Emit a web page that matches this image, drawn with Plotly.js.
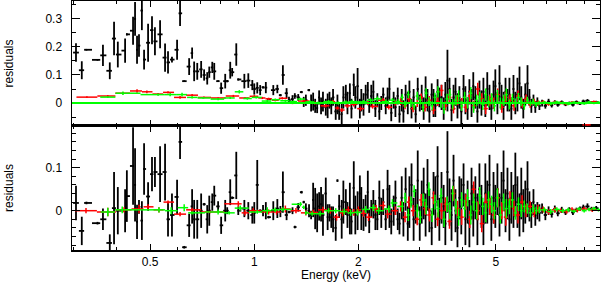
<!DOCTYPE html>
<html>
<head>
<meta charset="utf-8">
<script src="https://cdn.plot.ly/plotly-3.0.1.min.js"></script>
<style>html,body{margin:0;padding:0;background:#fff;}#chart{width:601px;height:282px;}</style>
</head>
<body>
<div id="chart"></div>
<script>
// ---------- data (energies in keV, residuals) ----------
const blackE = [0.305,0.317,0.327,0.352,0.365,0.382,0.393,0.403,0.423,0.428,
0.446,0.452,0.458,0.464,0.473,0.480,0.493,0.506,0.516,0.534,
0.552,0.563,0.578,0.598,0.610,0.627,0.648,0.661,0.670,0.684,
0.702,0.716,0.731,0.741,0.756,0.766,0.786,0.802,0.824,0.835,
0.852,0.863,0.887,0.899,0.936,0.961,0.987,1.0,1.02,1.04,
1.06,1.08,1.10,1.135,1.166,1.19,1.21,1.24,1.26,1.29,
1.31,1.34,1.37,1.39,1.41,1.44,1.46,1.48,1.50,1.52,
1.54,1.56,1.58,1.61,1.63,1.65,1.67,1.69,1.72,1.74,
1.76,1.79,1.81,1.84,1.86,1.89,1.91,1.94,1.96,1.99,
2.02,2.04,2.07,2.10,2.13,2.15,2.18,2.21,2.24,2.27,
2.30,2.33,2.36,2.40,2.43,2.46,2.49,2.53,2.56,2.60,2.63,
2.67,2.70,2.74,2.78,2.81,2.85,2.89,2.93,2.97,3.01,
3.05,3.09,3.13,3.17,3.21,3.26,3.30,3.34,3.39,3.43,
3.48,3.53,3.57,3.62,3.67,3.72,3.77,3.82,3.87,3.92,
3.97,4.03,4.08,4.14,4.19,4.25,4.30,4.36,4.42,4.48,
4.54,4.60,4.66,4.72,4.79,4.85,4.92,4.98,5.05,5.12,
5.19,5.26,5.33,5.40,5.47,5.54,5.62,5.69,5.77,5.85,
5.92,6.00,6.08,6.17,6.25,6.33,6.42,6.50,6.59,6.68,
6.80,6.95,7.10,7.25,7.40,7.55,7.75,7.95,8.15,8.35,8.55,8.75,8.95,9.2,9.45,9.75];

const blackTopV = [0.18,0.117,0.19,0.154,0.17,0.115,0.23,0.173,0.187,0.245,
0.258,0.30,0.19,0.205,0.33,0.155,0.215,0.26,0.22,0.245,
0.162,0.145,0.155,0.19,0.32,0.078,0.13,0.178,0.113,0.113,
0.12,0.1,0.088,0.11,0.127,0.113,0.078,0.053,0.078,0.078,
0.117,0.11,0.173,0.084,0.078,0.08,0.064,0.05,0.054,0.046,
0.056,0.055,0.014,0.046,0.05,0.028,0.1,0.035,0.01,0.014,
0.025,0.02,0.039,0.004,0.01,0.046,0.0,0.005,-0.01,-0.018,
0.02,-0.01,0.005,-0.015,-0.01,0.01,-0.01,0.02,-0.03,-0.005,
-0.03,-0.04,0.02,0.03,0.0,0.035,-0.02,0.065,0.02,0.06,
-0.02,0.01,-0.005,0.03,0.045,-0.01,0.025,0.04,-0.02,0.01,
-0.03,0.0,0.03,-0.01,0.02,0.05,-0.035,0.01,-0.015,0.025,-0.04,
0.01,-0.03,0.03,0.0,0.04,-0.02,0.02,-0.04,0.05,0.0,
0.02,-0.02,0.045,0.01,-0.03,0.03,0.0,-0.01,0.04,0.02,
0.02,-0.02,0.03,0.08,0.05,-0.025,0.02,0.04,-0.01,0.02,
-0.03,0.05,0.01,-0.02,0.04,0.0,0.06,0.02,-0.03,0.03,
0.0,0.04,-0.01,0.05,0.02,-0.02,0.03,0.06,0.0,0.07,
0.02,-0.01,0.04,0.01,0.03,-0.02,0.05,0.0,0.03,0.07,
0.02,-0.02,0.03,0.07,0.02,-0.01,0.01,-0.015,0.005,-0.01,
0.0,-0.01,0.005,-0.008,0.002,-0.006,0.003,-0.005,0.0,-0.006,0.004,-0.002,0.006,0.008,0.002,0.003];

const blackTopErr = [0.033,0.032,0.003,0.003,0.038,0.03,0.06,0.046,0.043,0.004,
0.05,0.06,0.05,0.04,0.07,0.035,0.068,0.05,0.05,0.05,
0.05,0.04,0.01,0.036,0.045,0.003,0.03,0.02,0.035,0.03,
0.03,0.02,0.022,0.02,0.02,0.03,0.003,0.02,0.026,0.004,
0.03,0.015,0.04,0.004,0.026,0.026,0.018,0.02,0.02,0.018,
0.004,0.02,0.004,0.018,0.015,0.004,0.035,0.018,0.012,0.014,
0.01,0.012,0.004,0.018,0.02,0.004,0.03,0.032,0.025,0.018,
0.025,0.03,0.035,0.03,0.044,0.03,0.03,0.03,0.03,0.035,
0.03,0.04,0.04,0.035,0.04,0.035,0.035,0.04,0.04,0.065,
0.035,0.04,0.04,0.035,0.03,0.025,0.04,0.04,0.03,0.025,
0.03,0.025,0.025,0.03,0.035,0.04,0.03,0.03,0.035,0.03,0.03,
0.04,0.04,0.035,0.04,0.04,0.035,0.03,0.03,0.04,0.03,
0.045,0.04,0.05,0.04,0.04,0.04,0.05,0.04,0.045,0.035,
0.045,0.04,0.045,0.11,0.04,0.04,0.045,0.05,0.045,0.04,
0.045,0.05,0.05,0.04,0.045,0.05,0.05,0.04,0.04,0.05,
0.045,0.05,0.04,0.06,0.045,0.04,0.05,0.06,0.04,0.065,
0.045,0.05,0.05,0.04,0.06,0.04,0.05,0.04,0.06,0.06,
0.04,0.035,0.04,0.065,0.03,0.025,0.02,0.02,0.015,0.015,
0.012,0.01,0.01,0.008,0.008,0.007,0.006,0.006,0.005,0.006,0.005,0.005,0.006,0.006,0.005,0.005];

const blackBotV = [0.018,-0.047,0.018,-0.029,-0.02,-0.075,0.006,0.0,0.0,0.034,
0.104,0.06,-0.026,0.009,-0.023,0.097,0.033,0.085,0.09,0.085,
0.09,-0.02,-0.01,0.032,0.16,-0.085,-0.034,0.01,-0.02,-0.02,
0.0,0.015,-0.02,0.0,0.02,0.035,0.01,-0.034,0.0,0.0,
0.043,0.03,0.082,0.0,0.005,0.0,-0.01,-0.005,0.06,0.0,
0.0,0.0,-0.015,0.0,0.005,-0.002,0.043,-0.01,-0.003,0.0,
-0.038,0.008,0.043,0.02,0.005,0.0,-0.01,0.025,0.005,-0.005,
0.01,0.015,-0.01,0.04,-0.015,-0.005,-0.015,-0.02,-0.04,0.07,
0.01,-0.02,0.02,0.02,-0.01,0.005,-0.025,0.053,-0.01,0.0,
0.04,0.005,-0.01,0.0,0.043,-0.025,0.005,0.015,-0.01,-0.02,
0.03,-0.005,0.02,-0.02,0.05,0.01,-0.025,0.0,0.03,-0.02,-0.03,
0.03,-0.02,0.05,-0.03,0.02,0.06,-0.02,0.01,0.07,-0.03,
0.02,0.04,-0.01,0.06,0.0,-0.04,0.04,0.02,0.08,-0.02,
0.03,0.01,-0.03,0.09,0.02,-0.01,0.07,0.0,-0.04,0.03,
0.01,0.06,-0.02,0.02,-0.03,0.04,0.0,0.03,-0.02,0.05,
0.01,-0.03,0.04,0.02,0.06,-0.02,0.03,0.01,0.05,-0.01,
0.03,0.07,0.0,0.04,-0.02,0.03,0.01,0.06,0.02,-0.01,
0.04,0.0,0.02,0.05,0.01,-0.01,0.02,-0.01,0.0,-0.005,
0.005,-0.01,0.0,-0.008,0.004,-0.006,0.002,-0.004,0.003,-0.004,0.002,0.005,0.008,0.01,0.004,0.006];

const blackBotErr = [0.04,0.033,0.003,0.003,0.025,0.02,0.084,0.055,0.05,0.06,
0.09,0.085,0.04,0.016,0.045,0.06,0.033,0.04,0.035,0.065,
0.066,0.04,0.05,0.04,0.04,0.003,0.027,0.04,0.045,0.045,
0.04,0.003,0.033,0.035,0.02,0.023,0.012,0.02,0.025,0.008,
0.03,0.003,0.055,0.01,0.02,0.02,0.02,0.025,0.058,0.003,
0.013,0.02,0.003,0.022,0.022,0.013,0.048,0.012,0.003,0.008,
0.003,0.01,0.003,0.003,0.012,0.015,0.01,0.04,0.048,0.045,
0.033,0.04,0.048,0.037,0.03,0.02,0.025,0.03,0.03,0.003,
0.027,0.045,0.05,0.03,0.03,0.06,0.03,0.062,0.045,0.045,
0.042,0.05,0.037,0.037,0.05,0.027,0.02,0.033,0.035,0.025,
0.04,0.035,0.03,0.025,0.045,0.05,0.03,0.035,0.04,0.025,0.025,
0.05,0.04,0.05,0.04,0.06,0.05,0.05,0.04,0.07,0.04,
0.05,0.06,0.05,0.06,0.05,0.04,0.05,0.06,0.07,0.05,
0.06,0.05,0.05,0.095,0.055,0.06,0.06,0.05,0.045,0.05,
0.065,0.05,0.06,0.05,0.055,0.06,0.06,0.05,0.06,0.06,
0.05,0.05,0.07,0.05,0.07,0.05,0.06,0.05,0.06,0.05,
0.06,0.07,0.05,0.06,0.05,0.06,0.05,0.075,0.06,0.05,
0.06,0.05,0.05,0.065,0.035,0.03,0.03,0.025,0.02,0.02,
0.012,0.012,0.01,0.008,0.008,0.007,0.007,0.006,0.005,0.006,0.005,0.005,0.006,0.007,0.005,0.005];

const redTopE = [0.328,0.377,0.417,0.458,0.489,0.527,0.563,0.610,0.661,0.715,
0.786,0.87,0.94,1.0,1.055,1.10,1.15,1.205,1.29,1.39,
1.50,1.61,1.69,1.74,1.79,1.86,1.94,2.03,2.13,2.2,
2.36,2.45,2.56,
2.65,2.73,2.80,2.88,2.96,3.04,3.12,3.21,3.30,3.39,
3.48,3.57,3.67,3.77,3.87,3.98,4.09,4.20,4.31,4.43,
4.55,4.67,4.80,4.93,5.06,5.20,5.34,5.49,5.64,5.79,
5.95,6.11,6.28,6.45,6.62,
6.85,7.1,7.4,7.7,8.0,8.3,8.6,9.2,9.6];
const redTopV = [0.021,0.025,0.035,0.043,0.04,0.032,0.038,0.02,0.028,0.02,
0.018,0.025,0.018,0.024,0.018,0.015,0.01,0.017,0.0,0.007,
0.0,-0.01,0.005,-0.018,-0.025,-0.01,-0.005,-0.02,0.0,-0.012,
0.01,-0.015,0.0,
0.005,-0.01,0.015,-0.02,0.0,0.02,-0.015,0.01,-0.025,0.005,
0.045,-0.01,0.02,-0.02,0.01,0.0,-0.015,0.025,-0.01,0.05,
0.015,-0.02,0.01,0.0,0.03,-0.015,0.02,0.01,-0.01,0.025,
0.0,0.015,-0.005,0.005,0.0,
0.003,-0.004,0.002,0.0,-0.003,0.002,0.0,-0.078,0.004];
const redTopErr = [0.003,0.004,0.004,0.006,0.005,0.004,0.004,0.005,0.004,0.003,
0.003,0.004,0.003,0.004,0.004,0.004,0.004,0.004,0.004,0.005,
0.005,0.006,0.006,0.006,0.007,0.007,0.007,0.008,0.008,0.008,
0.008,0.008,0.009,
0.012,0.012,0.013,0.013,0.014,0.014,0.015,0.015,0.015,0.016,
0.02,0.016,0.017,0.017,0.018,0.018,0.018,0.02,0.018,0.022,
0.02,0.02,0.02,0.02,0.022,0.02,0.02,0.02,0.018,0.02,
0.016,0.015,0.012,0.01,0.009,
0.007,0.006,0.006,0.005,0.005,0.005,0.005,0.002,0.005];

const redBotE = [0.326,0.377,0.42,0.464,0.493,0.530,0.563,0.610,0.661,0.746,
0.899,0.94,0.993,1.10,1.16,1.23,1.32,1.41,1.48,1.58,
1.66,1.73,1.80,1.87,1.94,2.0,2.07,2.14,2.25,2.36,
2.43,2.56,
2.65,2.73,2.80,2.88,2.96,3.04,3.12,3.21,3.30,3.39,
3.48,3.57,3.67,3.77,3.87,3.98,4.09,4.20,4.31,4.43,
4.55,4.67,4.80,4.93,5.06,5.20,5.34,5.49,5.64,5.79,
5.95,6.11,6.28,6.45,6.62,
6.85,7.1,7.4,7.7,8.0,8.3,8.6,9.0,9.5];
const redBotV = [0.0,-0.003,0.002,0.004,0.009,0.002,0.02,-0.008,0.002,-0.003,
0.016,-0.005,0.0,-0.003,-0.003,0.004,0.0,-0.005,-0.004,0.002,
0.0,-0.015,-0.005,0.002,-0.004,0.002,-0.006,-0.015,0.004,0.012,
-0.008,0.0,
0.01,-0.015,0.02,0.0,-0.02,0.025,0.005,-0.01,0.03,-0.02,
0.0,0.015,-0.025,0.04,0.005,-0.015,0.02,-0.02,0.05,0.0,
-0.03,0.02,0.01,-0.01,0.03,0.0,-0.015,0.025,0.005,-0.01,
0.02,0.0,0.01,-0.005,0.005,
0.003,-0.003,0.002,0.0,-0.002,0.003,0.001,0.004,0.002];
const redBotErr = [0.006,0.01,0.006,0.01,0.006,0.006,0.004,0.005,0.005,0.003,
0.006,0.006,0.006,0.006,0.006,0.008,0.006,0.006,0.006,0.007,
0.007,0.008,0.008,0.008,0.008,0.008,0.008,0.009,0.009,0.01,
0.01,0.01,
0.012,0.012,0.013,0.013,0.014,0.014,0.015,0.015,0.015,0.016,
0.02,0.016,0.017,0.017,0.018,0.018,0.018,0.02,0.018,0.022,
0.02,0.02,0.02,0.02,0.022,0.02,0.02,0.02,0.018,0.02,
0.016,0.015,0.012,0.01,0.009,
0.007,0.006,0.006,0.005,0.005,0.005,0.005,0.005,0.005];

const greenTopE = [0.377,0.417,0.527,0.571,0.618,0.661,0.711,0.786,0.852,0.905,
0.955,1.013,1.09,1.15,1.23,1.30,1.36,1.45,1.53,1.64,
1.75,1.84,1.92,2.07,2.17,2.27,2.40,2.51,2.61,
2.68,2.73,2.79,2.84,2.90,2.96,3.02,3.08,3.14,3.20,
3.27,3.33,3.40,3.47,3.54,3.61,3.68,3.75,3.83,3.90,
3.98,4.06,4.14,4.23,4.31,4.40,4.49,4.58,4.67,4.76,
4.86,4.95,5.05,5.15,5.26,5.36,5.47,5.58,5.69,5.81,
5.92,6.04,6.16,6.29,6.41,6.54,6.67,
6.9,7.2,7.5,7.8,8.1,8.4,8.7,9.0,9.3,9.6,9.9];
const greenTopV = [0.021,0.035,0.03,0.03,0.03,0.02,0.018,0.014,0.018,0.04,
0.016,0.02,0.007,0.012,0.008,0.005,0.014,0.004,0.0,0.005,
0.0,0.003,0.005,0.004,0.01,0.015,0.005,0.01,0.005,
0.02,-0.005,0.03,0.0,-0.01,0.025,0.01,-0.015,0.035,0.005,
-0.01,0.02,0.04,0.0,-0.02,0.015,0.03,-0.005,0.01,0.025,
-0.01,0.02,0.0,0.035,-0.015,0.01,0.02,-0.005,0.03,0.005,
0.015,-0.01,0.025,0.0,0.01,0.03,-0.005,0.015,0.0,0.02,
0.005,-0.01,0.01,0.0,0.005,-0.005,0.0,
0.002,-0.002,0.003,0.0,-0.003,0.002,0.001,-0.002,0.003,0.0,0.002];
const greenTopErr = [0.003,0.006,0.004,0.006,0.007,0.004,0.003,0.004,0.004,0.006,
0.004,0.004,0.004,0.004,0.004,0.004,0.005,0.005,0.005,0.006,
0.006,0.006,0.007,0.007,0.007,0.008,0.008,0.008,0.009,
0.012,0.012,0.014,0.013,0.014,0.015,0.015,0.015,0.018,0.016,
0.016,0.017,0.02,0.017,0.018,0.018,0.02,0.018,0.018,0.02,
0.018,0.02,0.02,0.022,0.02,0.02,0.02,0.02,0.022,0.02,
0.02,0.02,0.022,0.02,0.02,0.022,0.018,0.018,0.016,0.016,
0.015,0.014,0.012,0.01,0.01,0.009,0.008,
0.006,0.006,0.005,0.005,0.005,0.004,0.004,0.004,0.004,0.004,0.004];

const greenBotE = [0.377,0.415,0.530,0.575,0.627,0.661,0.786,0.846,0.911,1.02,
1.09,1.15,1.21,1.36,1.39,1.41,1.47,1.55,1.64,1.72,
1.82,1.90,1.99,2.10,2.21,2.29,2.45,2.51,
2.68,2.73,2.79,2.84,2.90,2.96,3.02,3.08,3.14,3.20,
3.27,3.33,3.40,3.47,3.54,3.61,3.68,3.75,3.83,3.90,
3.98,4.06,4.14,4.23,4.31,4.40,4.49,4.58,4.67,4.76,
4.86,4.95,5.05,5.15,5.26,5.36,5.47,5.58,5.69,5.81,
5.92,6.04,6.16,6.29,6.41,6.54,6.67,
6.9,7.2,7.5,7.8,8.1,8.4,8.7,9.0,9.3,9.6,9.9];
const greenBotV = [-0.003,0.002,0.002,0.0,0.007,-0.005,-0.003,-0.005,0.006,-0.003,
0.0,0.002,0.003,0.015,0.008,-0.005,-0.007,-0.007,0.0,0.0,
-0.002,-0.005,-0.004,0.003,0.007,0.0,0.004,0.018,
0.01,0.03,-0.01,0.02,0.045,0.0,-0.015,0.025,0.01,0.05,
-0.01,0.02,0.005,0.035,-0.02,0.015,0.0,0.04,0.01,-0.015,
0.025,0.005,0.03,-0.01,0.02,0.0,0.035,0.01,-0.005,0.025,
0.015,0.0,0.03,-0.01,0.02,0.005,0.01,0.025,-0.005,0.015,
0.0,0.01,0.005,-0.005,0.005,0.0,0.002,
0.002,-0.002,0.003,0.0,0.002,-0.001,0.004,0.0,0.003,0.005,0.002];
const greenBotErr = [0.01,0.008,0.006,0.008,0.008,0.004,0.006,0.004,0.006,0.004,
0.008,0.005,0.005,0.005,0.004,0.005,0.005,0.006,0.006,0.006,
0.007,0.007,0.007,0.008,0.008,0.008,0.008,0.009,
0.012,0.012,0.014,0.013,0.014,0.015,0.015,0.015,0.018,0.016,
0.016,0.017,0.02,0.017,0.018,0.018,0.02,0.018,0.018,0.02,
0.018,0.02,0.02,0.022,0.02,0.02,0.02,0.02,0.022,0.02,
0.02,0.02,0.022,0.02,0.02,0.022,0.018,0.018,0.016,0.016,
0.015,0.014,0.012,0.01,0.01,0.009,0.008,
0.006,0.006,0.005,0.005,0.005,0.004,0.004,0.004,0.004,0.004,0.004];

const xTickVals = [0.5, 1, 2, 5];
const xTickText = ['0.5', '1', '2', '5'];
const xMinorVals = [0.3,0.4,0.6,0.7,0.8,0.9,3,4,6,7,8,9];
const topTickVals = [0, 0.1, 0.2, 0.3];
const topTickText = ['0', '0.1', '0.2', '0.3'];
const topMinorVals = [-0.05, 0.05, 0.15, 0.25, 0.35];
const botTickVals = [0, 0.1];
const botTickText = ['0', '0.1'];
const botMinorVals = [-0.08,-0.06,-0.04,-0.02,0.02,0.04,0.06,0.08,0.12,0.14,0.16,0.18];

// ---------- drawing ----------
function binEdges(E) {
  const plus = [], minus = [];
  for (let i = 0; i < E.length; i++) {
    const lo = i > 0 ? Math.sqrt(E[i-1]*E[i]) : E[i]*E[i]/Math.sqrt(E[i]*E[i+1]);
    const hi = i < E.length-1 ? Math.sqrt(E[i]*E[i+1]) : E[i]*E[i]/Math.sqrt(E[i-1]*E[i]);
    plus.push(hi - E[i]); minus.push(E[i] - lo);
  }
  return {plus, minus};
}
function dataTrace(E, V, err, color, xa, ya, thick) {
  const b = binEdges(E);
  return {
    type: 'scatter', mode: 'markers', x: E, y: V, xaxis: xa, yaxis: ya,
    marker: {size: 1, color: color, opacity: 0},
    error_y: {type: 'data', array: err, symmetric: true, color: color, thickness: thick, width: 0},
    error_x: {type: 'data', array: b.plus, arrayminus: b.minus, symmetric: false, color: color, thickness: thick, width: 0},
    hoverinfo: 'skip', showlegend: false
  };
}

const traces = [
  dataTrace(blackE, blackTopV, blackTopErr, '#000000', 'x2', 'y2', 1.8),
  dataTrace(redTopE, redTopV, redTopErr, '#ff0000', 'x2', 'y2', 1.5),
  dataTrace(greenTopE, greenTopV, greenTopErr, '#00ff00', 'x2', 'y2', 1.5),
  dataTrace(blackE, blackBotV, blackBotErr, '#000000', 'x', 'y', 1.8),
  dataTrace(redBotE, redBotV, redBotErr, '#ff0000', 'x', 'y', 1.5),
  dataTrace(greenBotE, greenBotV, greenBotErr, '#00ff00', 'x', 'y', 1.5)
];

const font = {family: '"Liberation Sans", Arial, Helvetica, sans-serif', size: 12, color: '#000'};
const xRange = [Math.log10(0.297), Math.log10(10.0)];
function xAxis(extra) {
  return Object.assign({
    type: 'log', range: xRange, showgrid: false, zeroline: false,
    showline: true, linecolor: '#000', linewidth: 1.5, mirror: 'allticks',
    ticks: 'inside', ticklen: 6, tickwidth: 1, tickcolor: '#000',
    tickmode: 'array', tickvals: xTickVals, ticktext: xTickText,
    minor: {ticks: 'inside', ticklen: 3, tickwidth: 1, tickcolor: '#000', tickmode: 'array', tickvals: xMinorVals},
    tickfont: font
  }, extra);
}
function yAxis(range, domain, tv, tt, mv, extra) {
  return Object.assign({
    range: range, domain: domain, showgrid: false, zeroline: false,
    showline: true, linecolor: '#000', linewidth: 1.5, mirror: 'allticks',
    ticks: 'inside', ticklen: 8, tickwidth: 1, tickcolor: '#000',
    tickmode: 'array', tickvals: tv, ticktext: tt,
    minor: {ticks: 'inside', ticklen: 4, tickwidth: 1, tickcolor: '#000', tickmode: 'array', tickvals: mv},
    tickfont: font, ticklabelstandoff: 6,
    title: {text: 'residuals', font: font, standoff: 29}
  }, extra);
}

const layout = {
  width: 601, height: 282,
  margin: {l: 72, r: 1, t: 1, b: 32},
  paper_bgcolor: '#fff', plot_bgcolor: '#fff',
  showlegend: false,
  xaxis: xAxis({anchor: 'y', title: {text: 'Energy (keV)', font: font, standoff: 2}}),
  xaxis2: xAxis({anchor: 'y2', matches: 'x', showticklabels: false}),
  yaxis: yAxis([-0.0914, 0.197], [0, 0.498], botTickVals, botTickText, botMinorVals, {anchor: 'x'}),
  yaxis2: yAxis([-0.082, 0.364], [0.498, 1], topTickVals, topTickText, topMinorVals, {anchor: 'x2'}),
  shapes: [
    {type: 'line', xref: 'x2 domain', yref: 'y2', x0: 0, x1: 1, y0: 0, y1: 0,
     line: {color: '#00ff00', width: 2}, layer: 'above'}
  ]
};

Plotly.newPlot('chart', traces, layout, {staticPlot: true, displayModeBar: false});
</script>
</body>
</html>
